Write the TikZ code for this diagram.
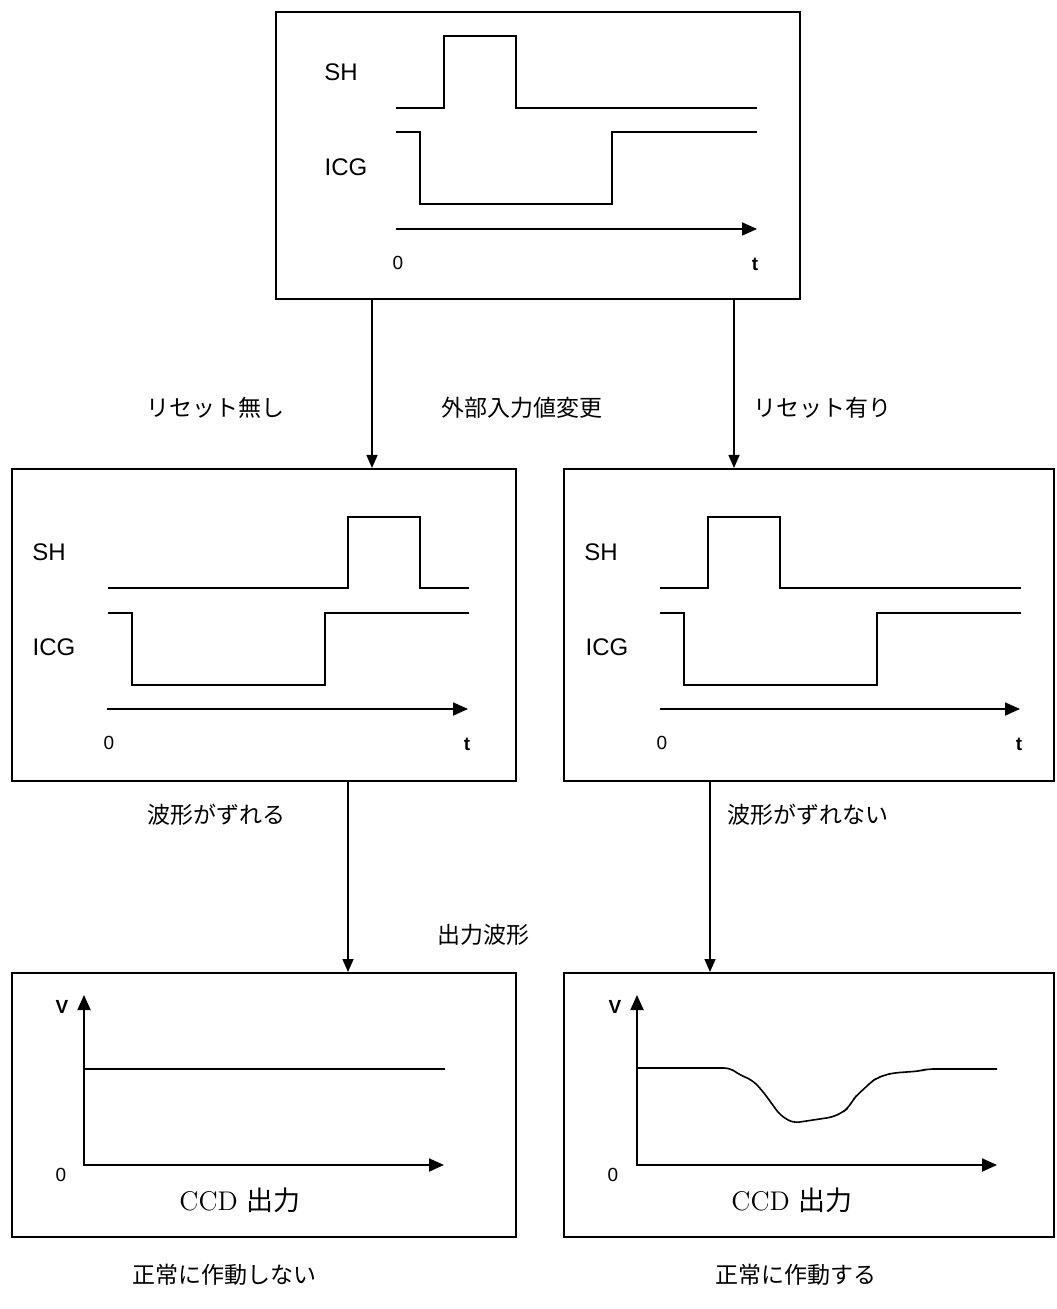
\documentclass[tikz,border=0pt]{standalone}
\usepackage{fontspec}
\newfontfamily\arial{Liberation Sans}
\newfontfamily\cjk{Noto Sans CJK JP}
\usetikzlibrary{arrows.meta}
\tikzset{
  box/.style={draw, line width=1pt, rectangle, inner sep=0pt},
  wave/.style={line width=0.8pt},
  arr/.style={line width=0.8pt, -{Triangle[length=6.5pt,width=5.5pt]}},
  axarr/.style={line width=0.9pt, -{Triangle[length=7.5pt,width=6.5pt]}},
  sig/.style={font=\arial\fontsize{12}{14}\selectfont, inner sep=0pt},
  small/.style={font=\arial\fontsize{9.5}{11}\selectfont, inner sep=0pt},
  smallb/.style={font=\arial\bfseries\fontsize{9.5}{11}\selectfont, inner sep=0pt},
  jp/.style={font=\cjk\fontsize{11.5}{13}\selectfont, inner sep=0pt},
  ccd/.style={font=\fontsize{13.5}{15}\selectfont, inner sep=0pt}
}
\begin{document}
\begin{tikzpicture}[x=0.5pt,y=-0.5pt]
\useasboundingbox[fill=white] (0,0) rectangle (1056,1309);

% boxes
\node[box, minimum width=262pt, minimum height=143.5pt] (top) at (538,155.5) {};
\node[box, minimum width=252pt, minimum height=156pt] (ml) at (264,625) {};
\node[box, minimum width=245pt, minimum height=156pt] (mr) at (809,625) {};
\node[box, minimum width=252pt, minimum height=132pt] (bl) at (264,1105) {};
\node[box, minimum width=245pt, minimum height=132pt] (br) at (809,1105) {};

% top box waveforms
\node[sig] (tsh) at (341,72) {SH};
\node[sig] (ticg) at (346,167) {ICG};
\draw[wave] (396,108) -- (444,108) -- (444,36) -- (516,36) -- (516,108) -- (757,108);
\draw[wave] (396,132) -- (420,132) -- (420,204) -- (612,204) -- (612,132) -- (757,132);
\draw[axarr] (396,229) -- (757,229);
\node[small] (t0) at (398,263) {0};
\node[smallb] (tt) at (755,264) {t};

% middle-left waveforms
\node[sig] (lsh) at (49,552) {SH};
\node[sig] (licg) at (54,647) {ICG};
\draw[wave] (108,588) -- (348,588) -- (348,517) -- (420,517) -- (420,588) -- (469,588);
\draw[wave] (108,613) -- (132,613) -- (132,685) -- (325,685) -- (325,613) -- (469,613);
\draw[axarr] (107,709) -- (468,709);
\node[small] (l0) at (109,743) {0};
\node[smallb] (lt) at (467,744) {t};

% middle-right waveforms
\node[sig] (rsh) at (601,552) {SH};
\node[sig] (ricg) at (607,647) {ICG};
\draw[wave] (660,588) -- (708,588) -- (708,517) -- (780,517) -- (780,588) -- (1021,588);
\draw[wave] (660,613) -- (684,613) -- (684,685) -- (877,685) -- (877,613) -- (1021,613);
\draw[axarr] (660,709) -- (1020,709);
\node[small] (r0) at (662,743) {0};
\node[smallb] (rt) at (1019,744) {t};

% bottom-left graph
\draw[axarr] (84,1165) -- (84,995);
\draw[axarr] (83,1165) -- (444,1165);
\draw[wave] (84,1069) -- (445,1069);
\node[smallb] (bv) at (62,1007) {V};
\node[small] (b0) at (61,1175) {0};
\node[ccd] (bccd) at (240,1200) {CCD {\cjk 出力}};

% bottom-right graph
\draw[axarr] (637,1165) -- (637,995);
\draw[axarr] (636,1165) -- (997,1165);
\draw[wave, rounded corners=3pt] (637,1068) -- (730,1068) -- (740,1075) -- (752,1080) -- (760,1088) -- (767,1097) -- (780,1115) -- (793,1123)
  -- (833,1117) -- (843,1112) -- (848,1108) -- (853,1100) -- (857,1095) -- (865,1088) -- (871,1082) -- (877,1078) -- (885,1075) -- (893,1073) -- (920,1071) -- (927,1069) -- (997,1069);
\node[smallb] (rv) at (615,1007) {V};
\node[small] (rb0) at (613,1175) {0};
\node[ccd] (rccd) at (792,1200) {CCD {\cjk 出力}};

% connectors
\coordinate (cx1) at (372,0);
\coordinate (cx2) at (734,0);
\coordinate (cx3) at (348,0);
\coordinate (cx4) at (710,0);
\draw[arr] (top.south -| cx1) -- (ml.north -| cx1);
\draw[arr] (top.south -| cx2) -- (mr.north -| cx2);
\draw[arr] (ml.south -| cx3) -- (bl.north -| cx3);
\draw[arr] (mr.south -| cx4) -- (br.north -| cx4);

% labels
\node[jp] (l1) at (215,408) {リセット無し};
\node[jp] (l2) at (522,408) {外部入力値変更};
\node[jp] (l3) at (822,408) {リセット有り};
\node[jp] (l4) at (216,815) {波形がずれる};
\node[jp] (l5) at (808,815) {波形がずれない};
\node[jp] (l6) at (483,935) {出力波形};
\node[jp] (l7) at (224,1275) {正常に作動しない};
\node[jp] (l8) at (796,1275) {正常に作動する};
\end{tikzpicture}
\end{document}
